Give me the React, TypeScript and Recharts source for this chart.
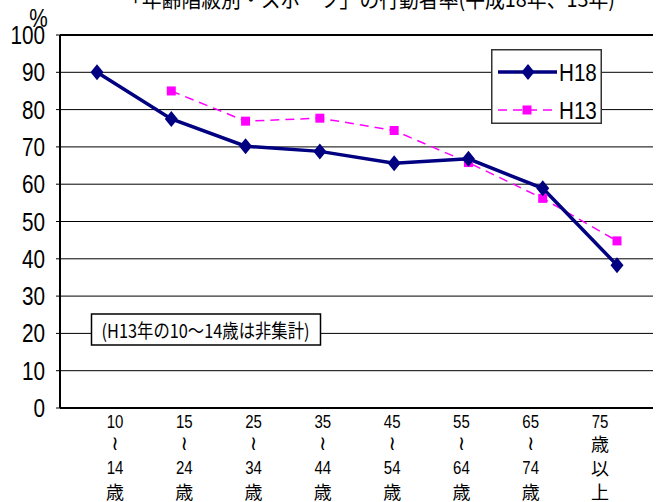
import React from "react";
import { LineChart, Line, XAxis, YAxis, CartesianGrid, Legend, ReferenceLine } from "recharts";

const ageGroups = ["10〜14歳", "15〜24歳", "25〜34歳", "35〜44歳", "45〜54歳", "55〜64歳", "65〜74歳", "75歳以上"];
const h18 = [90, 77.5, 70.2, 68.8, 65.6, 66.8, 58.9, 38.3];
// H13年の10〜14歳は非集計
const h13: (number | null)[] = [null, 85, 76.9, 77.7, 74.4, 65.8, 56.2, 44.8];
const yTicks = [0, 10, 20, 30, 40, 50, 60, 70, 80, 90, 100];

const data = ageGroups.map((age, i) => ({ age, h18: h18[i], h13: h13[i] }));

const NAVY = "#000080";
const MAGENTA = "#FF00FF";
const NUM_FONT = "'Liberation Sans', Arial, sans-serif";
const JP_FONT = "'Noto Sans CJK JP', sans-serif";

// "10〜14歳" -> ["10", "≀", "14", "歳"] / "75歳以上" -> ["75", "歳", "以", "上"]
function splitAge(label: string): string[] {
  if (label.includes("〜")) {
    const [a, b] = label.split("〜");
    return [a, "≀", b.replace("歳", ""), "歳"];
  }
  const m = label.match(/^(\d+)(.*)$/);
  if (!m) return [label];
  return [m[1], ...m[2].split("")];
}

const Diamond = ({ cx, cy }: any) => {
  if (cx == null || cy == null) return null;
  return <polygon points={`${cx},${cy - 8} ${cx + 6.5},${cy} ${cx},${cy + 8} ${cx - 6.5},${cy}`} fill={NAVY} />;
};

const Square = ({ cx, cy }: any) => {
  if (cx == null || cy == null) return null;
  return <rect x={cx - 4.5} y={cy - 4.5} width={9} height={9} fill={MAGENTA} />;
};

const YTick = ({ x, y, payload }: any) => (
  <text
    transform={`translate(${x},${y}) scale(0.83,1)`}
    textAnchor="end"
    dy="0.36em"
    fontFamily={NUM_FONT}
    fontSize={25}
    fill="#000"
  >
    {payload.value}
  </text>
);

const XTick = ({ x, y, payload }: any) => {
  const lines = splitAge(String(payload.value));
  const base = [20, 42, 66, 90];
  return (
    <g>
      {lines.map((t, i) => {
        const isNum = /^\d+$/.test(t);
        if (isNum) {
          return (
            <text
              key={i}
              transform={`translate(${x},${y + base[i]}) scale(0.79,1)`}
              textAnchor="middle"
              fontFamily={NUM_FONT}
              fontSize={19}
              fill="#000"
            >
              {t}
            </text>
          );
        }
        if (t === "≀") {
          return (
            <text key={i} x={x} y={y + base[i]} textAnchor="middle" fontFamily="'DejaVu Sans', sans-serif" fontSize={20} fill="#000">
              {t}
            </text>
          );
        }
        return (
          <text key={i} x={x} y={y + base[i] + (i === 1 ? 1 : 0.5)} textAnchor="middle" fontFamily={JP_FONT} fontSize={18} fill="#000">
            {t}
          </text>
        );
      })}
    </g>
  );
};

const LegendBox = () => (
  <svg width={111} height={75} style={{ display: "block" }}>
    <rect x={0.75} y={0.75} width={109.5} height={73.5} fill="#fff" stroke="#333" strokeWidth={1.5} />
    <line x1={7} x2={66} y1={23} y2={23} stroke={NAVY} strokeWidth={3.5} />
    <Diamond cx={37} cy={23} />
    <text transform="translate(68,32) scale(0.86,1)" fontFamily={NUM_FONT} fontSize={24} fill="#000">
      H18
    </text>
    <line x1={7} x2={66} y1={61} y2={61} stroke={MAGENTA} strokeWidth={1.5} strokeDasharray="9 6" />
    <Square cx={36} cy={61} />
    <text transform="translate(68,70) scale(0.86,1)" fontFamily={NUM_FONT} fontSize={24} fill="#000">
      H13
    </text>
  </svg>
);

export default function App() {
  return (
    <div style={{ position: "absolute", left: 0, top: 0, width: 660, height: 502, background: "#fff" }}>
      <LineChart width={660} height={502} data={data} margin={{ top: 35, right: 7, bottom: 0, left: 0 }}>
        <CartesianGrid vertical={false} stroke="#000" strokeWidth={1} />
        <XAxis dataKey="age" hide height={0} padding={{ left: 37, right: 36 }} />
        <XAxis
          xAxisId="lbl"
          dataKey="age"
          height={94}
          padding={{ left: 55, right: 53 }}
          axisLine={{ stroke: "#000", strokeWidth: 2 }}
          tickLine={false}
          tickSize={0}
          tickMargin={0}
          interval={0}
          tick={<XTick />}
        />
        <YAxis
          domain={[0, 100]}
          ticks={yTicks}
          width={60}
          tickSize={4}
          tickMargin={11}
          axisLine={{ stroke: "#000", strokeWidth: 2 }}
          tickLine={{ stroke: "#000" }}
          tick={<YTick />}
          interval={0}
        />
        <YAxis
          yAxisId="r"
          orientation="right"
          domain={[0, 100]}
          width={0}
          tick={false}
          tickLine={false}
          axisLine={{ stroke: "#808080", strokeWidth: 2 }}
        />
        <ReferenceLine y={100} stroke="#000" strokeWidth={2} />
        <Legend
          layout="horizontal"
          verticalAlign="middle"
          align="center"
          content={() => <LegendBox />}
          wrapperStyle={{ position: "absolute", left: 491, top: 49, width: 111, height: 75, margin: 0, padding: 0 }}
        />
        <Line
          dataKey="h13"
          name="H13"
          stroke={MAGENTA}
          strokeWidth={1.5}
          strokeDasharray="9 6"
          dot={(p: any) => <Square key={p.index} {...p} />}
          connectNulls={false}
          isAnimationActive={false}
        />
        <Line
          dataKey="h18"
          name="H18"
          stroke={NAVY}
          strokeWidth={3.5}
          dot={(p: any) => <Diamond key={p.index} {...p} />}
          isAnimationActive={false}
        />
      </LineChart>
      <svg width={660} height={502} style={{ position: "absolute", left: 0, top: 0, pointerEvents: "none" }}>
        <text x={122} y={7} textLength={493} lengthAdjust="spacingAndGlyphs" fontFamily={JP_FONT} fontSize={22} fill="#000">
          「年齢階級別・スポーツ」の行動者率(平成18年、13年)
        </text>
        <text transform="translate(38.5,27) scale(0.8,1)" textAnchor="middle" fontFamily={NUM_FONT} fontSize={26} fill="#000">
          %
        </text>
        <rect x={91.5} y={314} width={229} height={31} fill="#fff" stroke="#000" strokeWidth={1.5} />
        <text x={101.5} y={338} textLength={208} lengthAdjust="spacingAndGlyphs" fontFamily={JP_FONT} fontSize={19} fill="#000">
          (H13年の10～14歳は非集計)
        </text>
      </svg>
    </div>
  );
}
